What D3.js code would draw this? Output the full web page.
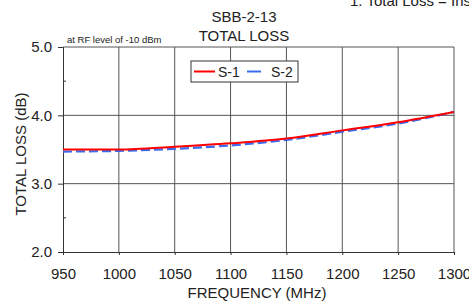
<!DOCTYPE html>
<html>
<head>
<meta charset="utf-8">
<script src="https://cdn.jsdelivr.net/npm/d3@7"></script>
<style>
body { margin: 0; padding: 0; background: #fff; }
text { font-family: Arial, "Liberation Sans", sans-serif; fill: #222; }
</style>
</head>
<body>
<script>
// chart data
var freq   = [950, 1000, 1050, 1100, 1150, 1200, 1250, 1300];
var lossS1 = [3.50, 3.50, 3.54, 3.59, 3.66, 3.78, 3.90, 4.05];
var lossS2 = [3.47, 3.48, 3.51, 3.56, 3.64, 3.76, 3.88, 4.05];
var xTicks = [950, 1000, 1050, 1100, 1150, 1200, 1250, 1300];
var yTicks = [2.0, 3.0, 4.0, 5.0];
var yMinor = [2.5, 3.5, 4.5];

var W = 469, H = 307;
var mLeft = 63, mRight = 454, mTop = 47, mBottom = 252;   // plot box in px

var svg = d3.select("body").append("svg")
  .attr("width", W).attr("height", H);

var x = d3.scaleLinear().domain([950, 1300]).range([mLeft, mRight]);
var y = d3.scaleLinear().domain([2, 5]).range([mBottom, mTop]);

// grid
svg.append("g").selectAll("line").data(xTicks.slice(1)).join("line")
  .attr("x1", d => x(d)).attr("x2", d => x(d))
  .attr("y1", mTop).attr("y2", mBottom)
  .attr("stroke", "#555").attr("stroke-width", 1);
svg.append("g").selectAll("line").data(yTicks.slice(1)).join("line")
  .attr("x1", mLeft).attr("x2", mRight)
  .attr("y1", d => y(d)).attr("y2", d => y(d))
  .attr("stroke", "#555").attr("stroke-width", 1);

// axes
var xAxis = d3.axisBottom(x).tickValues(xTicks).tickSize(3).tickPadding(13)
  .tickFormat(d3.format("d"));
var gx = svg.append("g").attr("transform", "translate(0," + mBottom + ")").call(xAxis);
gx.select(".domain").attr("stroke", "#333");
gx.selectAll(".tick line").attr("stroke", "#333");
gx.selectAll("text").attr("font-size", 15).attr("fill", "#222");

var yAxis = d3.axisLeft(y).tickValues(yTicks).tickSize(5).tickPadding(6)
  .tickFormat(d3.format(".1f"));
var gy = svg.append("g").attr("transform", "translate(" + mLeft + ",0)").call(yAxis);
gy.select(".domain").attr("stroke", "#333");
gy.selectAll(".tick line").attr("stroke", "#333");
gy.selectAll("text").attr("font-size", 15).attr("fill", "#222");

svg.append("g").selectAll("line").data(yMinor).join("line")
  .attr("x1", mLeft).attr("x2", mLeft + 3)
  .attr("y1", d => y(d)).attr("y2", d => y(d))
  .attr("stroke", "#333");

// lines
var line = d3.line().x((d, i) => x(freq[i])).y(d => y(d)).curve(d3.curveMonotoneX);
svg.append("path").datum(lossS2).attr("d", line)
  .attr("fill", "none").attr("stroke", "#3a6cf0").attr("stroke-width", 2.2)
  .attr("stroke-dasharray", "9,4");
svg.append("path").datum(lossS1).attr("d", line)
  .attr("fill", "none").attr("stroke", "#ff0000").attr("stroke-width", 2);

// legend
var lg = svg.append("g");
lg.append("rect").attr("x", 191).attr("y", 61).attr("width", 107).attr("height", 21)
  .attr("fill", "#fff").attr("stroke", "#333");
lg.append("line").attr("x1", 194).attr("x2", 215).attr("y1", 71.5).attr("y2", 71.5)
  .attr("stroke", "#ff0000").attr("stroke-width", 2);
lg.append("text").attr("x", 218).attr("y", 77).attr("font-size", 14).text("S-1");
lg.append("line").attr("x1", 247).attr("x2", 261).attr("y1", 71.5).attr("y2", 71.5)
  .attr("stroke", "#3a6cf0").attr("stroke-width", 2);
lg.append("text").attr("x", 271).attr("y", 77).attr("font-size", 14).text("S-2");

// titles and labels
svg.append("text").attr("x", 244).attr("y", 22).attr("text-anchor", "middle")
  .attr("font-size", 15).text("SBB-2-13");
svg.append("text").attr("x", 244).attr("y", 41).attr("text-anchor", "middle")
  .attr("font-size", 15).text("TOTAL LOSS");
svg.append("text").attr("x", 67).attr("y", 43).attr("font-size", 9.5).text("at RF level of -10 dBm");
svg.append("text").attr("x", 350).attr("y", 6).attr("font-size", 15).text("1. Total Loss = Insertion Loss");
svg.append("text").attr("x", 257).attr("y", 298).attr("text-anchor", "middle")
  .attr("font-size", 15).text("FREQUENCY (MHz)");
svg.append("text").attr("transform", "translate(26," + 154 + ") rotate(-90)")
  .attr("text-anchor", "middle").attr("font-size", 15).text("TOTAL LOSS (dB)");
</script>
</body>
</html>
